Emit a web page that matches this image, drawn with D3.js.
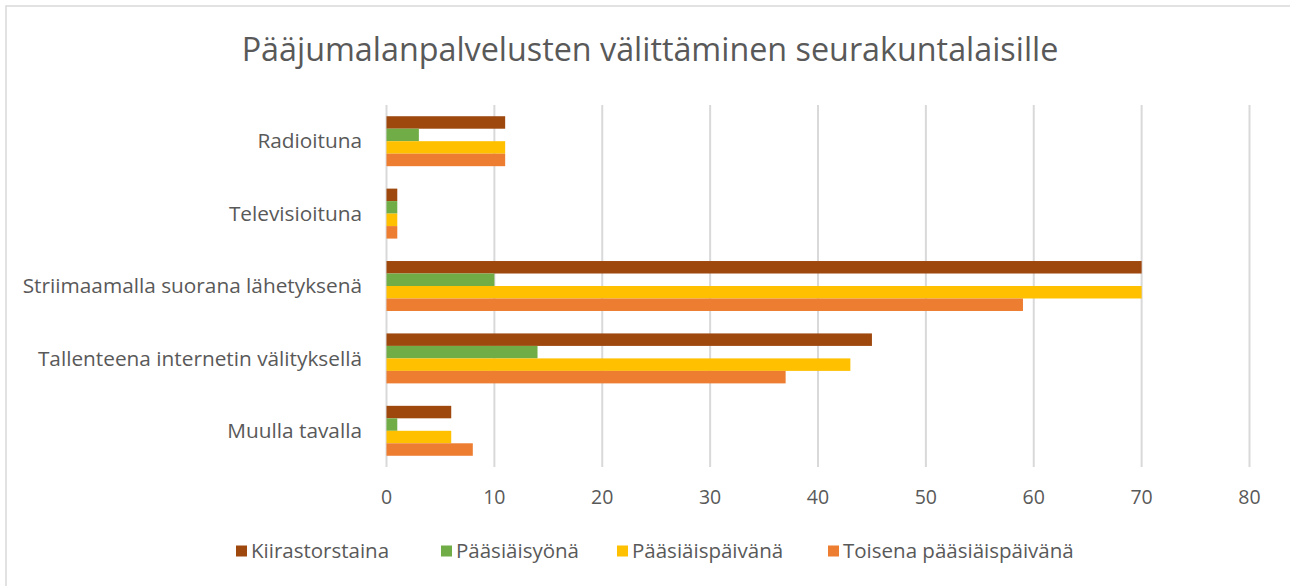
<!DOCTYPE html>
<html>
<head>
<meta charset="utf-8">
<script src="https://cdn.jsdelivr.net/npm/d3@7"></script>
<style>
  body { margin: 0; background: #fff; }
  text { font-family: "Open Sans", sans-serif; fill: #595959; }
</style>
</head>
<body>
<div id="chart"></div>
<script>
var categories = ["Radioituna", "Televisioituna", "Striimaamalla suorana lähetyksenä", "Tallenteena internetin välityksellä", "Muulla tavalla"]
var series = ["Kiirastorstaina", "Pääsiäisyönä", "Pääsiäispäivänä", "Toisena pääsiäispäivänä"]
var colors = ["#9E480E", "#70AD47", "#FFC000", "#ED7D31"]
var kiirastorstaina = [11, 1, 70, 45, 6]
var paasiaisyona = [3, 1, 10, 14, 1]
var paasiaispaivana = [11, 1, 70, 43, 6]
var toisena = [11, 1, 59, 37, 8]
var ticks = [0, 10, 20, 30, 40, 50, 60, 70, 80]

var values = [kiirastorstaina, paasiaisyona, paasiaispaivana, toisena]

var width = 1290, height = 586
var plot_left = 386.5, plot_right = 1249.5, plot_top = 105, plot_bottom = 467

var svg = d3.select("#chart").append("svg")
  .attr("width", width)
  .attr("height", height)

// chart frame
svg.append("rect")
  .attr("x", 6).attr("y", 6)
  .attr("width", width + 10).attr("height", height + 10)
  .style("fill", "#fff")
  .style("stroke", "#d9d9d9")
  .style("stroke-width", 1.5)

svg.append("text")
  .attr("x", 650).attr("y", 61)
  .attr("text-anchor", "middle")
  .style("font-size", "32.3px")
  .text("Pääjumalanpalvelusten välittäminen seurakuntalaisille")

var x = d3.scaleLinear().domain([0, 80]).range([plot_left, plot_right])
var y0 = d3.scaleBand().domain(categories).range([plot_top, plot_bottom])
  .paddingInner(0.31).paddingOuter(0.155)
var y1 = d3.scaleBand().domain(series).range([0, y0.bandwidth()])

// gridlines
svg.append("g").selectAll("line")
  .data(ticks)
  .enter().append("line")
    .attr("x1", function(d) { return x(d) })
    .attr("x2", function(d) { return x(d) })
    .attr("y1", plot_top)
    .attr("y2", plot_bottom)
    .style("stroke", "#d9d9d9")
    .style("stroke-width", 2)

// tick labels
svg.append("g").selectAll("text")
  .data(ticks)
  .enter().append("text")
    .attr("x", function(d) { return x(d) })
    .attr("y", 504)
    .attr("text-anchor", "middle")
    .style("font-size", "19.5px")
    .text(function(d) { return d })

// category labels
svg.append("g").selectAll("text")
  .data(categories)
  .enter().append("text")
    .attr("x", 362)
    .attr("y", function(d) { return y0(d) + y0.bandwidth() / 2 })
    .attr("dy", "0.35em")
    .attr("text-anchor", "end")
    .style("font-size", "20.8px")
    .text(function(d) { return d })

// bars
var groups = svg.append("g").selectAll("g")
  .data(categories)
  .enter().append("g")
    .attr("transform", function(d) { return "translate(0," + y0(d) + ")" })

groups.selectAll("rect")
  .data(function(d, i) {
    return series.map(function(s, j) { return { key: s, value: values[j][i], color: colors[j] } })
  })
  .enter().append("rect")
    .attr("x", x(0))
    .attr("y", function(d) { return y1(d.key) })
    .attr("width", function(d) { return x(d.value) - x(0) })
    .attr("height", y1.bandwidth())
    .style("fill", function(d) { return d.color })

// legend
var legend_x = [236, 441, 617, 828]
var legend = svg.append("g").selectAll("g")
  .data(series)
  .enter().append("g")
    .attr("transform", function(d, i) { return "translate(" + legend_x[i] + ",551)" })

legend.append("rect")
  .attr("x", 0).attr("y", -5.5)
  .attr("width", 11).attr("height", 11)
  .style("fill", function(d, i) { return colors[i] })

legend.append("text")
  .attr("x", 15)
  .attr("dy", "0.35em")
  .style("font-size", "20.5px")
  .text(function(d) { return d })
</script>
</body>
</html>
